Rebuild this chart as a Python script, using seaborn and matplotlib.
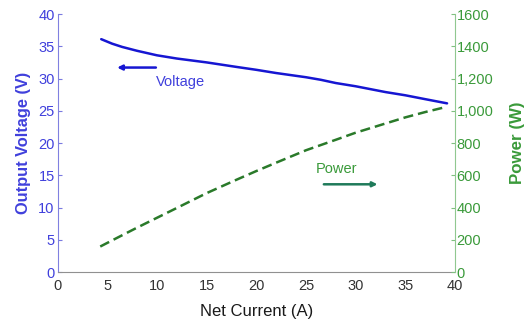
import matplotlib
matplotlib.use("Agg")
import matplotlib.pyplot as plt
import seaborn as sns
import pandas as pd

# Measured stack output versus net current
current_v = [4.4, 5.5, 6.5, 8.0, 10.0, 12.0, 15.0, 18.0, 20.0, 22.0, 25.0, 26.5, 28.0, 30.0, 33.0, 35.0, 37.0, 39.2]
voltage = [36.1, 35.4, 34.9, 34.3, 33.6, 33.1, 32.5, 31.8, 31.35, 30.85, 30.2, 29.8, 29.3, 28.8, 27.9, 27.4, 26.8, 26.15]

current_p = [4.3, 6.0, 8.0, 10.0, 12.0, 15.0, 18.0, 20.0, 22.0, 25.0, 28.0, 30.0, 33.0, 35.0, 37.0, 39.2]
power = [158, 212, 275, 336, 397, 489, 572, 626, 678, 755, 820, 864, 921, 959, 992, 1025]

x_ticks = [0, 5, 10, 15, 20, 25, 30, 35, 40]
v_ticks = [0, 5, 10, 15, 20, 25, 30, 35, 40]
p_ticks = [0, 200, 400, 600, 800, 1000, 1200, 1400, 1600]
p_tick_labels = ["0", "200", "400", "600", "800", "1,000", "1,200", "1400", "1600"]

sns.set_style("white")
plt.rcParams["font.family"] = ["Liberation Sans", "DejaVu Sans"]

BLUE_TXT = "#4040dc"
BLUE_LINE = "#1616d2"
GREEN_TXT = "#3a9a3a"
GREEN_LINE = "#2a7a2a"

df_v = pd.DataFrame({"current": current_v, "voltage": voltage})
df_p = pd.DataFrame({"current": current_p, "power": power})

fig = plt.figure(figsize=(5.31, 3.26), dpi=100)
ax = fig.add_axes([0.1083, 0.1656, 0.7486, 0.7914])
ax2 = ax.twinx()

sns.lineplot(data=df_v, x="current", y="voltage", ax=ax, color=BLUE_LINE, linewidth=1.8)
sns.lineplot(data=df_p, x="current", y="power", ax=ax2, color=GREEN_LINE, linewidth=1.8,
             linestyle=(0, (4, 2)))

ax.set_xlim(0, 40)
ax.set_ylim(0, 40)
ax2.set_ylim(0, 1600)
ax.set_xticks(x_ticks)
ax.set_yticks(v_ticks)
ax2.set_yticks(p_ticks)
ax2.set_yticklabels(p_tick_labels)

ax.set_xlabel("Net Current (A)", fontsize=12, fontweight="medium", color="#1a1a1a", labelpad=8)
ax.set_ylabel("Output Voltage (V)", fontsize=11.8, fontweight="bold", color=BLUE_TXT, labelpad=5)
ax2.set_ylabel("Power (W)", fontsize=12.2, fontweight="bold", color=GREEN_TXT, labelpad=12)

ax.tick_params(axis="x", direction="in", length=3, color="#888888", labelsize=10.5,
               labelcolor="#333333", pad=5)
ax.tick_params(axis="y", direction="in", length=3, color="#7a7ae0", labelsize=10.5,
               labelcolor=BLUE_TXT, pad=2)
ax2.tick_params(axis="y", direction="in", length=3, color="#80c080", labelsize=10.5,
                labelcolor=GREEN_TXT, pad=1)

for a in (ax, ax2):
    a.spines["top"].set_visible(False)
    a.grid(False)
ax.spines["left"].set_color("#8080e0")
ax.spines["bottom"].set_color("#909090")
ax.spines["right"].set_visible(False)
ax2.spines["left"].set_visible(False)
ax2.spines["bottom"].set_visible(False)
ax2.spines["right"].set_color("#90c890")

# Series annotations with arrows pointing to their axis
ax.annotate("", xy=(6.0, 31.7), xytext=(9.9, 31.7),
            arrowprops=dict(arrowstyle="-|>", color=BLUE_LINE, lw=1.8,
                            mutation_scale=7, shrinkA=0, shrinkB=0))
ax.text(9.9, 29.5, "Voltage", color=BLUE_TXT, fontsize=10.5, va="center", ha="left")

ax.annotate("", xy=(32.2, 13.6), xytext=(26.8, 13.6),
            arrowprops=dict(arrowstyle="-|>", color="#1f7a5a", lw=1.8,
                            mutation_scale=7, shrinkA=0, shrinkB=0))
ax.text(26.0, 16.0, "Power", color=GREEN_TXT, fontsize=10.5, va="center", ha="left")

fig.savefig("out.png", dpi=100)
